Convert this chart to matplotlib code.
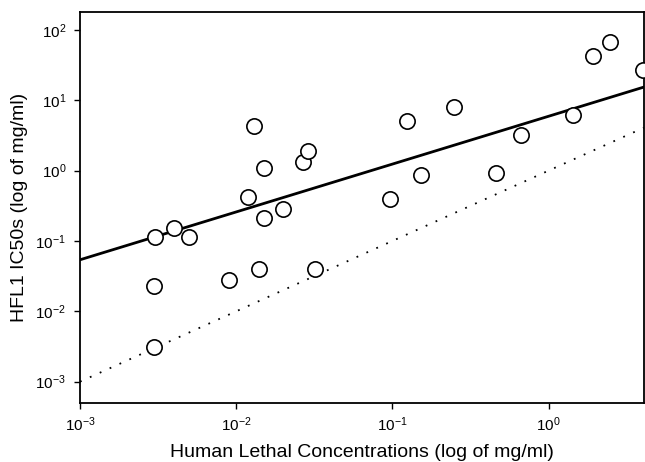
import matplotlib
matplotlib.use("Agg")
import matplotlib.pyplot as plt
import numpy as np

plt.rcParams['font.family'] = ['Liberation Sans', 'DejaVu Sans']

# human lethal concentrations (mg/ml) vs HFL1 IC50 (mg/ml)
lethal_conc = [0.00303, 0.0040, 0.0050, 0.0030, 0.0030, 0.0090, 0.0119, 0.0130,
               0.0140, 0.0151, 0.0151, 0.0200, 0.0269, 0.0290, 0.0321, 0.097,
               0.125, 0.153, 0.249, 0.464, 0.662, 1.43, 1.94, 2.46, 4.0]
ic50 = [0.115, 0.154, 0.115, 0.0231, 0.00314, 0.0281, 0.425, 4.33,
        0.0403, 1.10, 0.214, 0.286, 1.33, 1.91, 0.0403, 0.398,
        5.09, 0.871, 8.06, 0.93, 3.23, 6.21, 42.8, 67.6, 27.1]

# regression line in log-log space: log10(y) = fit_slope*log10(x) + fit_icpt
fit_slope = 0.68
fit_icpt = 0.773

x_lim = (1e-3, 4.07)
y_lim = (5e-4, 180)

fig = plt.figure(figsize=(6.45, 4.62), dpi=100)
ax = fig.add_axes([0.124, 0.128, 0.874, 0.846])

xs = np.logspace(np.log10(x_lim[0]), np.log10(x_lim[1]), 200)
ax.plot(xs, 10 ** (fit_icpt + fit_slope * np.log10(xs)), color='black', lw=2.0, zorder=2)
ax.plot(xs, xs, color='black', lw=1.3, linestyle=(0, (1, 5)), zorder=2)
ax.plot(lethal_conc, ic50, 'o', ms=11, mfc='white', mec='black', mew=1.2,
        linestyle='none', zorder=3)

ax.set_xscale('log')
ax.set_yscale('log')
ax.set_xlim(*x_lim)
ax.set_ylim(*y_lim)
ax.set_xticks([1e-3, 1e-2, 1e-1, 1e0])
ax.set_yticks([1e-3, 1e-2, 1e-1, 1e0, 1e1, 1e2])
ax.minorticks_off()
ax.tick_params(direction='out', length=4, width=1, labelsize=11, pad=6)
ax.tick_params(axis='x', pad=5)

for s in ax.spines.values():
    s.set_linewidth(1.3)

ax.set_xlabel('Human Lethal Concentrations (log of mg/ml)', fontsize=14)
ax.xaxis.set_label_coords(0.5, -0.105)
ax.set_ylabel('HFL1 IC50s (log of mg/ml)', fontsize=14, labelpad=5)

fig.savefig('out.png', dpi=100)
